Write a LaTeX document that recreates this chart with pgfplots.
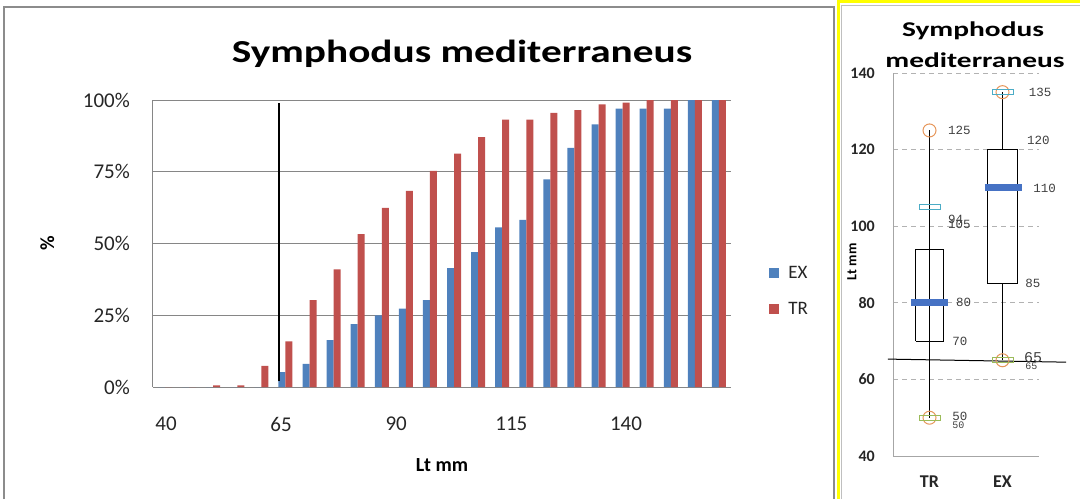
\documentclass[border=0pt]{standalone}
\usepackage{pgfplots}
\pgfplotsset{compat=1.18}
\usepackage{pgfplotstable}
\usepackage{graphicx}
\usepackage{fontspec}
\setmainfont{Carlito}
\newfontfamily\monofont{Liberation Mono}

\definecolor{exblue}{HTML}{4F81BD}
\definecolor{trred}{HTML}{C0504D}
\definecolor{gridgray}{HTML}{868686}
\definecolor{medblue}{RGB}{70,114,196}
\definecolor{circorange}{RGB}{230,150,90}
\definecolor{rectcyan}{HTML}{4BACC6}
\definecolor{rectgreen}{HTML}{9BBB59}
\definecolor{framegray}{HTML}{8C8C8C}
\definecolor{frameyellow}{HTML}{FFFF00}
\definecolor{labgray}{HTML}{404040}

\pgfplotstableread{
mm EX TR
40 0 0
45 0 0
50 0 0.6
55 0 0.6
60 0 7.4
65 5.2 15.9
70 8.1 30.3
75 16.3 41.0
80 21.9 53.3
85 25.0 62.4
90 27.3 68.3
95 30.3 75.3
100 41.4 81.3
105 47.0 87.1
110 55.6 93.2
115 58.2 93.2
120 72.3 95.5
125 83.3 96.5
130 91.5 98.5
135 97.0 99.1
140 97.0 100
145 97.0 100
150 100 100
155 100 100
}\cumdata

\begin{document}
\begin{tikzpicture}[x=1pt,y=1pt]
\path[use as bounding box] (0,0) rectangle (1080,499);
% frames
\draw[framegray, line width=2pt] (4,0) -- (4,492) -- (834,492) -- (834,0);
\draw[frameyellow, line width=3pt] (838,0) -- (838,497.5) -- (1080,497.5);
\draw[gray!50, line width=0.8pt] (841.5,0) -- (841.5,494) -- (1080,494);

% titles
\node[anchor=base, inner sep=0pt] at (462,436) {\scalebox{1.29}[1]{\fontsize{32}{38}\selectfont\bfseries Symphodus mediterraneus}};
\node[anchor=base, inner sep=0pt] at (973,462) {\scalebox{1.4}[1]{\fontsize{21}{25}\selectfont\bfseries Symphodus}};
\node[anchor=base, inner sep=0pt] at (975,431) {\scalebox{1.4}[1]{\fontsize{21}{25}\selectfont\bfseries mediterraneus}};

% left chart
\begin{axis}[
  at={(153pt,112pt)}, anchor=south west,
  scale only axis, width=578pt, height=287pt,
  xmin=37.5, xmax=157.5, ymin=0, ymax=100,
  ybar, bar width=1.45,
  axis x line*=bottom, axis y line*=left,
  axis line style={gridgray, line width=1pt, -},
  ytick={0,25,50,75,100},
  yticklabel={\pgfmathprintnumber{\tick}\%},
  xtick={40.2,64.1,88,111.9,135.7},
  xticklabels={40,65,90,115,140},
  major tick length=0pt,
  ymajorgrids, grid style={gridgray, line width=1pt},
  /pgf/number format/assume math mode=true,
  tick label style={font=\fontsize{21}{25}\selectfont, text=black!85},
  yticklabel style={anchor=east, inner sep=0pt, xshift=-23pt},
  xticklabel style={anchor=north, inner sep=0pt, yshift=-30pt},
  xlabel={Lt mm}, ylabel={\%},
  xlabel style={font=\fontsize{20}{24}\selectfont\bfseries, at={(axis description cs:0.5,-0.272)}, anchor=center},
  ylabel style={font=\fontsize{20}{24}\selectfont\bfseries, at={(axis description cs:-0.183,0.5)}, anchor=center},
  legend style={at={(1.066,0.334)}, anchor=west, draw=none, fill=none,
    font=\fontsize{19}{23}\selectfont, row sep=18pt, inner sep=0pt, text=black!85},
  legend cell align=left,
  legend image code/.code={\fill[#1] (0pt,-5pt) rectangle (10pt,5pt);},
  clip=false,
]
\addplot[fill=exblue, draw=none, bar shift=-0.725] table[x=mm, y=EX] {\cumdata};
\addlegendentry{\hspace{7pt}EX}
\addplot[fill=trred, draw=none, bar shift=0.725] table[x=mm, y=TR] {\cumdata};
\addlegendentry{\hspace{7pt}TR}
\addplot[sharp plot, black, line width=2pt, forget plot] coordinates {(63.7,2) (63.7,99)};
\end{axis}

% right chart (box plot)
\begin{axis}[
  at={(893pt,43pt)}, anchor=south west,
  scale only axis, width=146pt, height=383pt,
  xmin=0.5, xmax=2.5, ymin=40, ymax=140,
  axis x line*=bottom, axis y line*=left,
  axis line style={gray!70, line width=0.8pt, -},
  xtick={1,2}, xticklabels={TR,EX},
  ytick={40,60,...,140},
  major tick length=0pt,
  ymajorgrids, grid style={gray!60, line width=0.8pt, dash pattern=on 5pt off 4pt},
  /pgf/number format/assume math mode=true,
  tick label style={font=\fontsize{16}{19}\selectfont\bfseries, text=black!85},
  yticklabel style={anchor=east, inner sep=0pt, xshift=-18pt},
  xticklabel style={anchor=north, inner sep=0pt, yshift=-20pt, font=\fontsize{18}{21}\selectfont\bfseries},
  ylabel={Lt mm},
  ylabel style={font=\fontsize{14}{17}\selectfont\bfseries, at={(axis description cs:-0.281,0.507)}, anchor=center},
  clip=false,
]
% whiskers
\addplot[black, line width=1pt] coordinates {(1,50) (1,125)};
\addplot[black, line width=1pt] coordinates {(2,65) (2,85)};
\addplot[black, line width=1pt] coordinates {(2,120) (2,135)};
% boxes
\addplot[black, line width=1pt] coordinates {(0.81,70) (1.19,70) (1.19,94) (0.81,94) (0.81,70)};
\addplot[black, line width=1pt] coordinates {(1.795,85) (2.205,85) (2.205,120) (1.795,120) (1.795,85)};
% medians
\addplot[medblue, line width=7pt] coordinates {(0.747,80) (1.253,80)};
\addplot[medblue, line width=7pt] coordinates {(1.76,110) (2.27,110)};
% markers
\addplot[only marks, mark=o, mark size=6.5pt, draw=circorange, mark options={line width=1pt}] coordinates {(1,125) (1,50) (2,135) (2,65)};
\addplot[only marks, mark=square, mark size=2.4pt, draw=rectcyan, mark options={xscale=4.4, line width=0.8pt}] coordinates {(1,105) (2,135)};
\addplot[only marks, mark=square, mark size=2.4pt, draw=rectgreen, mark options={xscale=4.4, line width=0.8pt}] coordinates {(1,50) (2,65)};
% 65 mm line
\addplot[black, line width=1pt] coordinates {(0.43,65.3) (2.87,64.5)};
% data labels
\begin{scope}[every node/.style={anchor=west, inner sep=0pt, text=labgray, font=\monofont\fontsize{12.5}{15}\selectfont}]
\node at (axis cs:1.253,125) {125};
\node at (axis cs:1.253,101.8) {94};
\node at (axis cs:1.253,100.5) {105};
\node at (axis cs:1.363,80) {80};
\node at (axis cs:1.31,70) {70};
\node at (axis cs:1.31,50.4) {50};
\node[font=\monofont\fontsize{10}{12}\selectfont] at (axis cs:1.31,48) {50};
\node at (axis cs:2.36,135) {135};
\node at (axis cs:2.335,122.4) {120};
\node at (axis cs:2.42,110) {110};
\node at (axis cs:2.31,85) {85};
\node[font=\monofont\fontsize{15}{18}\selectfont] at (axis cs:2.295,65.8) {65};
\node[font=\monofont\fontsize{10}{12}\selectfont] at (axis cs:2.31,63.4) {65};
\end{scope}
\end{axis}
\end{tikzpicture}
\end{document}
